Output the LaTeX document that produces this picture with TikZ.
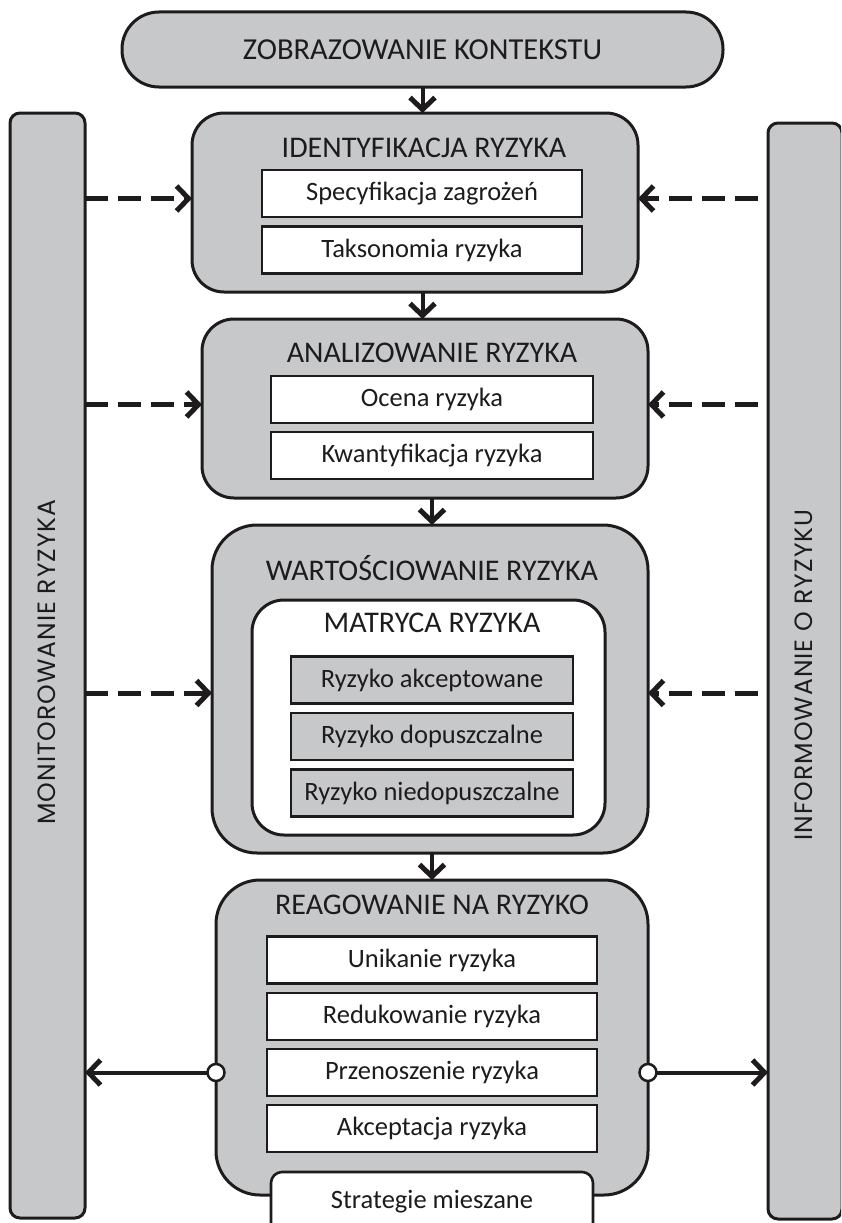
\documentclass[tikz,border=0pt]{standalone}
\usepackage{fontspec}
\setmainfont{Carlito}
\newfontfamily\sidefont{Poppins}[LetterSpace=4]
\usetikzlibrary{arrows.meta,calc}
\definecolor{panel}{RGB}{199,200,202}
\definecolor{ink}{RGB}{30,27,28}
\begin{document}
\begin{tikzpicture}[x=1pt,y=-1pt,
  every node/.style={inner sep=0pt, outer sep=0pt},
  frame/.style={draw=ink, line width=3pt, fill=panel, rectangle},
  stage/.style={frame, rounded corners=32pt},
  titletext/.style={font=\fontsize{30}{33}\selectfont, text=ink},
  item/.style={draw=ink, line width=2.6pt, fill=white, rectangle,
    minimum height=47pt, font=\fontsize{26.5}{29}\selectfont, text=ink},
  grayitem/.style={item, fill=panel},
  sidebar/.style={frame, rounded corners=10pt},
  sidetext/.style={font=\sidefont\fontsize{25}{28}\selectfont, text=ink, rotate=90},
  chevron/.style={-{Straight Barb[length=12pt,width=25pt,line width=5pt]}},
  flow/.style={draw=ink, line width=4pt, chevron},
  feed/.style={draw=ink, line width=5pt, dash pattern=on 23pt off 10pt, chevron},
  feedr/.style={feed, dash phase=23pt},
  joint/.style={circle, draw=ink, fill=white, line width=2.5pt, minimum size=17pt}
]
\useasboundingbox (0,0) rectangle (841,1223);
\clip (0,0) rectangle (841,1223);

% side bars
\node[sidebar, minimum width=75pt, minimum height=1105pt] (lbar) at (47.5,665.5) {};
\node[sidebar, minimum width=74pt, minimum height=1096pt] (rbar) at (805,671) {};
\node[sidetext] (ltxt) at (47,662) {MONITOROWANIE RYZYKA};
\node[sidetext] (rtxt) at (804,675) {INFORMOWANIE O RYZYKU};

% context
\node[frame, rounded corners=37pt, minimum width=601pt, minimum height=75pt,
  titletext, font=\fontsize{30.5}{33}\selectfont] (ctx) at (422.5,49.5) {ZOBRAZOWANIE KONTEKSTU};

% identification
\node[stage, minimum width=446pt, minimum height=179pt] (ident) at (415,202.5) {};
\node[titletext] (identT) at (424,148) {IDENTYFIKACJA RYZYKA};
\node[item, minimum width=320pt] (spec) at (422,193.5) {Specyfikacja zagrożeń};
\node[item, minimum width=320pt] (takso) at (422,250) {Taksonomia ryzyka};

% analysis
\node[stage, minimum width=446pt, minimum height=179pt] (anal) at (425,408.5) {};
\node[titletext] (analT) at (432,353) {ANALIZOWANIE RYZYKA};
\node[item, minimum width=322pt] (ocena) at (432,399.5) {Ocena ryzyka};
\node[item, minimum width=322pt] (kwant) at (432,455.5) {Kwantyfikacja ryzyka};

% evaluation
\node[stage, rounded corners=45pt, minimum width=436pt, minimum height=328pt] (wart) at (430,689) {};
\node[titletext] (wartT) at (432,568) {WARTOŚCIOWANIE RYZYKA};
\node[draw=ink, line width=3pt, fill=white, rectangle, rounded corners=32pt,
  minimum width=353pt, minimum height=235pt] (matr) at (428.5,717.5) {};
\node[titletext] (matrT) at (432,623) {MATRYCA RYZYKA};
\node[grayitem, minimum width=282pt] (akc) at (432,680) {Ryzyko akceptowane};
\node[grayitem, minimum width=282pt] (dop) at (432,736.5) {Ryzyko dopuszczalne};
\node[grayitem, minimum width=282pt] (niedop) at (432,793) {Ryzyko niedopuszczalne};

% response
\node[stage, rounded corners=44pt, minimum width=432pt, minimum height=315pt] (reag) at (432,1037.5) {};
\node[titletext] (reagT) at (432,905) {REAGOWANIE NA RYZYKO};
\node[item, minimum width=330pt] (unik) at (432,960) {Unikanie ryzyka};
\node[item, minimum width=330pt] (red) at (432,1016.5) {Redukowanie ryzyka};
\node[item, minimum width=330pt] (prz) at (432,1072.5) {Przenoszenie ryzyka};
\node[item, minimum width=330pt] (akcp) at (432,1128.5) {Akceptacja ryzyka};
\node[item, rounded corners=11pt, minimum width=322pt, minimum height=70pt] (mix) at (432,1207) {};
\node[font=\fontsize{26.5}{29}\selectfont, text=ink] (mixT) at (432,1202) {Strategie mieszane};

% main flow
\draw[flow] (ctx.south) -- (ctx.south |- ident.north);
\draw[flow] (ctx.south |- ident.south) -- (ctx.south |- anal.north);
\draw[flow] (akc.center |- anal.south) -- (akc.center |- wart.north);
\draw[flow] (akc.center |- wart.south) -- (akc.center |- reag.north);

% monitoring and reporting feedback
\draw[feed] ([yshift=4pt]ident.west -| lbar.east) -- ([yshift=4pt]ident.west);
\draw[feedr] ([yshift=4pt]ident.east -| rbar.west) -- ([yshift=4pt]ident.east);
\draw[feed] ([yshift=4pt]anal.west -| lbar.east) -- ([yshift=4pt]anal.west);
\draw[feedr] ([yshift=4pt]anal.east -| rbar.west) -- ([yshift=4pt]anal.east);
\draw[feed] ([yshift=-4pt]wart.west -| lbar.east) -- ([yshift=-4pt]wart.west);
\draw[feedr] ([yshift=-4pt]wart.east -| rbar.west) -- ([yshift=-4pt]wart.east);

% outputs of the response stage
\node[joint] (jl) at (reag.west |- prz.center) {};
\node[joint] (jr) at (reag.east |- prz.center) {};
\draw[flow] (jl) -- (jl -| lbar.east);
\draw[flow] (jr) -- (jr -| rbar.west);
\end{tikzpicture}
\end{document}
